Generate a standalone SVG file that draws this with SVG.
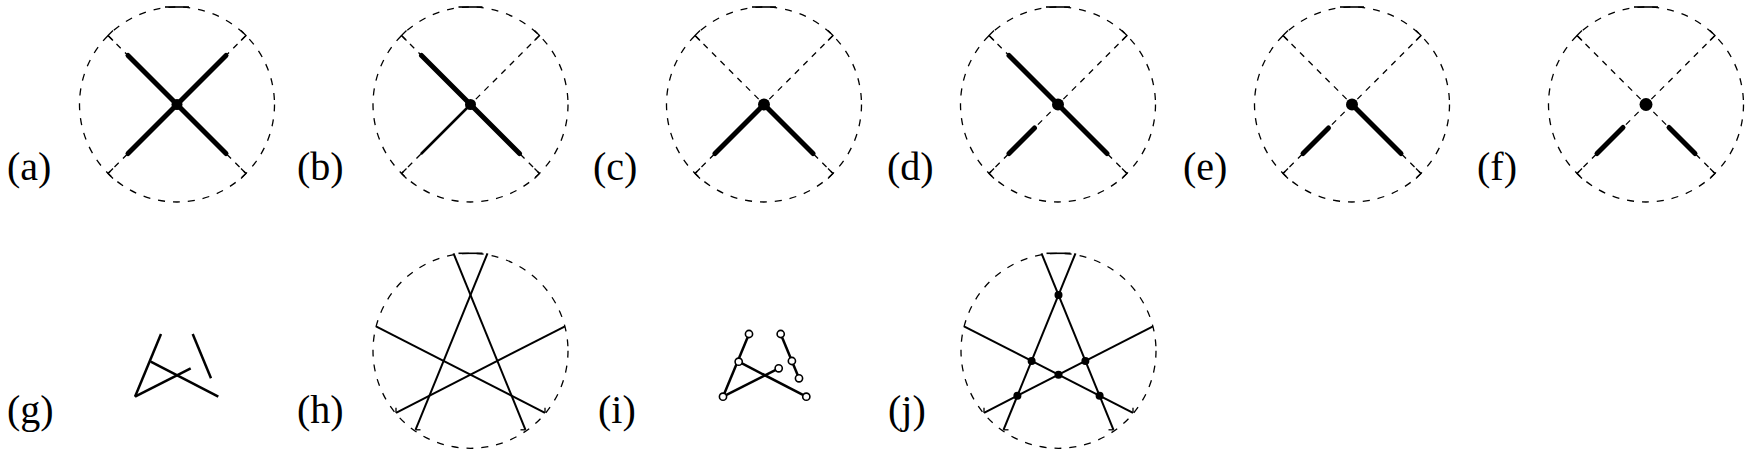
<svg xmlns="http://www.w3.org/2000/svg" xmlns:xlink="http://www.w3.org/1999/xlink" width="1750" height="455" viewBox="0 0 1750 455">
<style>
.lbl{font-family:"Liberation Serif","Times New Roman",serif;font-size:40px;fill:#000}
.dash{fill:none;stroke:#000;stroke-width:1.3;stroke-dasharray:7 8}
.ddiag{fill:none;stroke:#000;stroke-width:1.3;stroke-dasharray:6 6}
.tick{fill:none;stroke:#000;stroke-width:1.3}
.bar{stroke:#000;stroke-width:1.6}
.thick{stroke:#000;stroke-width:5;stroke-linecap:round}
.thin{stroke:#000;stroke-width:2.5;stroke-linecap:round}
.ln{stroke:#000;stroke-width:2;fill:none}
.gl{stroke:#000;stroke-width:2.5;fill:none}
.dot{fill:#000}
.odot{fill:#fff;stroke:#000;stroke-width:1.6}
</style>
<defs>
<g id="frame">
<circle class="dash" cx="0" cy="0" r="97.5"/>
<line class="bar" x1="-12" y1="-97.5" x2="12" y2="-97.5"/>
<line class="ddiag" x1="-69" y1="-69" x2="69" y2="69"/>
<line class="ddiag" x1="69" y1="-69" x2="-69" y2="69"/>
<polyline class="tick" points="-64,-74 -69,-69 -64,-64"/>
<polyline class="tick" points="64,-74 69,-69 64,-64"/>
<polyline class="tick" points="-64,64 -69,69 -64,74"/>
<polyline class="tick" points="64,64 69,69 64,74"/>
</g>
<g id="star">
<circle class="dash" cx="0" cy="0" r="97.5"/>
<line class="bar" x1="-12" y1="-97.5" x2="12" y2="-97.5"/>
<line class="ln" x1="-17" y1="-97.5" x2="55" y2="79"/>
<line class="ln" x1="17" y1="-97.5" x2="-55" y2="79"/>
<line class="ln" x1="-94.5" y1="-24.5" x2="74.5" y2="62"/>
<line class="ln" x1="94.5" y1="-24.5" x2="-74.5" y2="62"/>
<line class="tick" x1="-55" y1="79" x2="-50" y2="79"/>
<line class="tick" x1="55" y1="79" x2="50" y2="79"/>
<line class="tick" x1="-74.5" y1="62" x2="-74.5" y2="57"/>
<line class="tick" x1="74.5" y1="62" x2="74.5" y2="57"/>
</g>
<g id="graph">
<line class="gl" x1="161" y1="334" x2="135" y2="396.7"/>
<line class="gl" x1="135" y1="396.7" x2="190.7" y2="368.3"/>
<line class="gl" x1="150.7" y1="361.7" x2="218.3" y2="396.7"/>
<line class="gl" x1="192.7" y1="334" x2="211" y2="378.3"/>
</g>
</defs>

<g id="panel-a">
<text class="lbl" x="7" y="180">(a)</text>
<g transform="translate(177,104.5)">
<use xlink:href="#frame"/>
<line class="thick" x1="-49" y1="-49" x2="49" y2="49"/>
<line class="thick" x1="49" y1="-49" x2="-49" y2="49"/>
<circle class="dot" cx="0" cy="0" r="5.5"/>
</g>
</g>

<g id="panel-b">
<text class="lbl" x="297" y="180">(b)</text>
<g transform="translate(470.5,104.5)">
<use xlink:href="#frame"/>
<line class="thick" x1="-49" y1="-49" x2="49" y2="49"/>
<line class="thin" x1="0" y1="0" x2="-49" y2="49"/>
<circle class="dot" cx="0" cy="0" r="5.5"/>
</g>
</g>

<g id="panel-c">
<text class="lbl" x="593" y="180">(c)</text>
<g transform="translate(764,104.5)">
<use xlink:href="#frame"/>
<line class="thick" x1="0" y1="0" x2="-49" y2="49"/>
<line class="thick" x1="0" y1="0" x2="49" y2="49"/>
<circle class="dot" cx="0" cy="0" r="6"/>
</g>
</g>

<g id="panel-d">
<text class="lbl" x="887" y="180">(d)</text>
<g transform="translate(1058,104.5)">
<use xlink:href="#frame"/>
<line class="thick" x1="-49" y1="-49" x2="49" y2="49"/>
<line class="thick" x1="-49" y1="49" x2="-23.5" y2="23.5"/>
<circle class="dot" cx="0" cy="0" r="6"/>
</g>
</g>

<g id="panel-e">
<text class="lbl" x="1183" y="180">(e)</text>
<g transform="translate(1352,104.5)">
<use xlink:href="#frame"/>
<line class="thick" x1="0" y1="0" x2="49" y2="49"/>
<line class="thick" x1="-49" y1="49" x2="-23.5" y2="23.5"/>
<circle class="dot" cx="0" cy="0" r="6"/>
</g>
</g>

<g id="panel-f">
<text class="lbl" x="1477" y="180">(f)</text>
<g transform="translate(1646,104.5)">
<use xlink:href="#frame"/>
<line class="thick" x1="-49" y1="49" x2="-23" y2="23"/>
<line class="thick" x1="23" y1="23" x2="49" y2="49"/>
<circle class="dot" cx="0" cy="0" r="6.5"/>
</g>
</g>

<g id="panel-g">
<text class="lbl" x="7" y="423">(g)</text>
<use xlink:href="#graph"/>
</g>

<g id="panel-h">
<text class="lbl" x="297" y="423">(h)</text>
<g transform="translate(470.5,350.8)">
<use xlink:href="#star"/>
</g>
</g>

<g id="panel-i">
<text class="lbl" x="598" y="423">(i)</text>
<g transform="translate(588,0)">
<use xlink:href="#graph"/>
<circle class="odot" cx="161" cy="334" r="3.6"/>
<circle class="odot" cx="150.7" cy="361.7" r="3.6"/>
<circle class="odot" cx="135" cy="396.7" r="3.6"/>
<circle class="odot" cx="190.7" cy="368.3" r="3.6"/>
<circle class="odot" cx="218.3" cy="396.7" r="3.6"/>
<circle class="odot" cx="192.7" cy="334" r="3.6"/>
<circle class="odot" cx="203.9" cy="361" r="3.6"/>
<circle class="odot" cx="211" cy="378.3" r="3.6"/>
</g>
</g>

<g id="panel-j">
<text class="lbl" x="888" y="423">(j)</text>
<g transform="translate(1058.5,350.8)">
<use xlink:href="#star"/>
<circle class="dot" cx="0" cy="-55.8" r="4"/>
<circle class="dot" cx="0" cy="23.9" r="4"/>
<circle class="dot" cx="26.9" cy="10.1" r="4"/>
<circle class="dot" cx="-26.9" cy="10.1" r="4"/>
<circle class="dot" cx="41.1" cy="44.9" r="4"/>
<circle class="dot" cx="-41.1" cy="44.9" r="4"/>
</g>
</g>
</svg>
